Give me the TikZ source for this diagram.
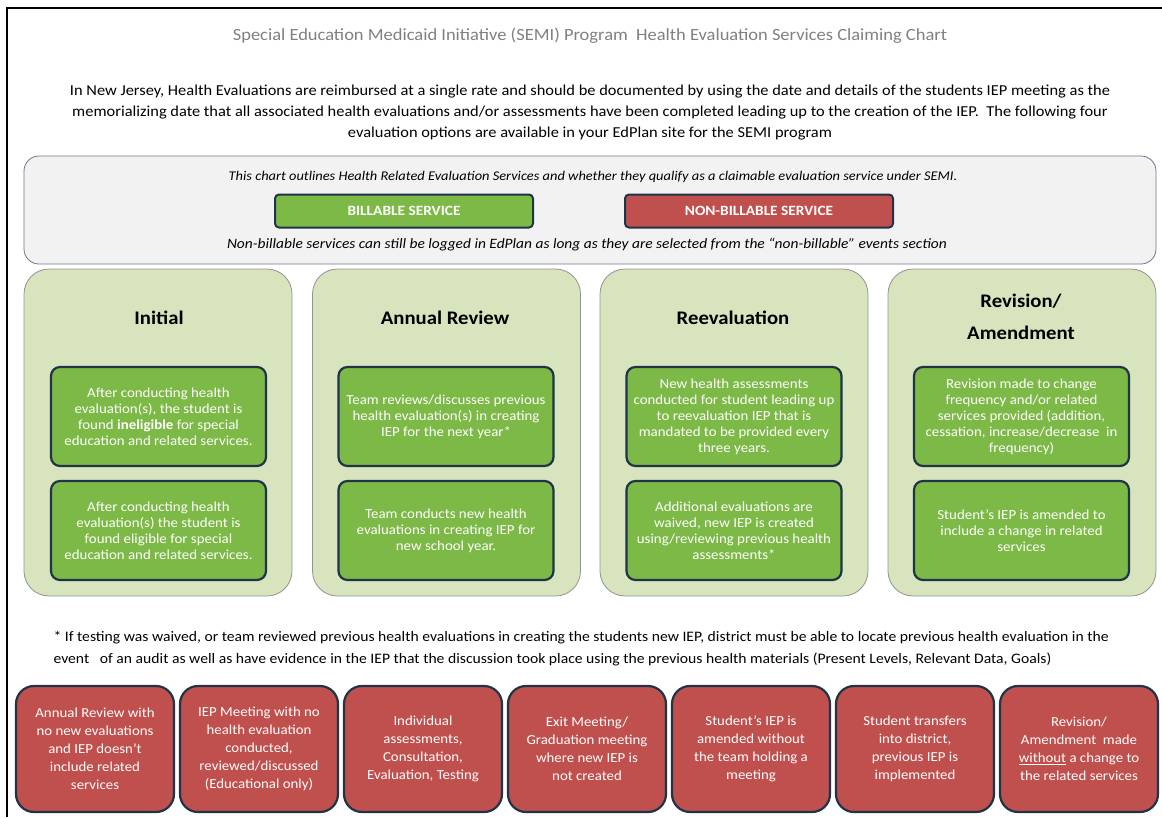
\documentclass[tikz,border=0pt]{standalone}
\usepackage{fontspec}
\setmainfont{Carlito}[FakeStretch=1.08]
\usepackage{xcolor}
\usetikzlibrary{positioning}
\definecolor{billgreen}{HTML}{7DB946}
\definecolor{nonbillred}{HTML}{C0504D}
\definecolor{boxnavy}{HTML}{1F3349}
\definecolor{colgreen}{HTML}{D7E4BD}
\definecolor{legendgray}{HTML}{F2F2F2}
\definecolor{titlegray}{HTML}{808080}

\begin{document}
\begin{tikzpicture}[x=1pt, y=-1pt, column/.style = {draw=gray!85,
        fill=colgreen, line width=0.8pt, rounded corners=25pt,
        minimum width=268pt, minimum height=327pt}, billable/.style =
      {draw=boxnavy, fill=billgreen, line width=2.2pt, rounded corners=9pt,
        text=white, align=center, inner sep=2pt,
        font=\fontsize{13.8}{16}\selectfont,
        minimum width=215pt, minimum height=99pt},
      nonbillable/.style={billable, fill=nonbillred, rounded corners=18pt,
        minimum width=158pt, minimum height=126pt,
        font=\fontsize{13.75}{18}\selectfont},
      legendkey/.style={draw=boxnavy, line width=2pt, rounded corners=4pt,
        minimum width=258pt, minimum height=33pt, text=white,
        font=\fontsize{14.2}{16}\selectfont\bfseries},
      coltitle/.style={align=center, font=\fontsize{19.2}{32}\selectfont\bfseries}]

      \useasboundingbox (0,0) rectangle (1162,817);
      \draw[line width=2pt] (7,817) -- (7,8) -- (1162,8);

      \node [text=titlegray, font=\fontsize{17.1}{18}\selectfont] (title) at (590,36)
        {Special Education Medicaid Initiative (SEMI) Program\ \ Health Evaluation Services Claiming Chart};
      \node [align=center, font=\fontsize{15.2}{21}\selectfont] (intro) at (590,113)
        {In New Jersey, Health Evaluations are reimbursed at a single rate and should be documented by using the date and details of the students IEP meeting as the\\
         memorializing date that all associated health evaluations and/or assessments have been completed leading up to the creation of the IEP.\ \ The following four\\
         evaluation options are available in your EdPlan site for the SEMI program};

      % legend
      \node [draw=gray!90!blue, fill=legendgray, line width=0.8pt, rounded corners=15pt,
        minimum width=1132pt, minimum height=108pt] (legend) at (590,210) {};
      \node [font=\fontsize{13.35}{16}\selectfont\itshape] (legendtop) at (593,177)
        {This chart outlines Health Related Evaluation Services and whether they qualify as a claimable evaluation service under SEMI.};
      \node [legendkey, fill=billgreen] (billkey) at (404,211) {BILLABLE SERVICE};
      \node [legendkey, fill=nonbillred, minimum width=268pt] (nonbillkey) at (759,211) {NON-BILLABLE SERVICE};
      \node [font=\fontsize{14.3}{16}\selectfont\itshape] (legendbottom) at (587,245)
        {Non-billable services can still be logged in EdPlan as long as they are selected from the “non-billable” events section};

      % the four evaluation options
      \node [column] (initial) at (158,432.5) {};
      \node [column] (annual) at (446.5,432.5) {};
      \node [column] (reeval) at (734,432.5) {};
      \node [column] (revision) at (1022,432.5) {};
      \node [coltitle] (initialtitle) at (159,318) {Initial};
      \node [coltitle] (annualtitle) at (445,318) {Annual Review};
      \node [coltitle] (reevaltitle) at (733,318) {Reevaluation};
      \node [coltitle] (revisiontitle) at (1021,317) {Revision/\\Amendment};

      \node [billable] (initialA) at (158.5,416.5) {After conducting health\\evaluation(s), the student is\\found \textbf{ineligible} for special\\education and related services.};
      \node [billable] (initialB) at (158.5,530.5) {After conducting health\\evaluation(s) the student is\\found eligible for special\\education and related services.};
      \node [billable] (annualA) at (446,416.5) {Team reviews/discusses previous\\health evaluation(s) in creating\\IEP for the next year*};
      \node [billable] (annualB) at (446,530.5) {Team conducts new health\\evaluations in creating IEP for\\new school year.};
      \node [billable] (reevalA) at (734,416.5) {New health assessments\\conducted for student leading up\\to reevaluation IEP that is\\mandated to be provided every\\three years.};
      \node [billable] (reevalB) at (734,530.5) {Additional evaluations are\\waived, new IEP is created\\using/reviewing previous health\\assessments*};
      \node [billable] (revisionA) at (1021.5,416.5) {Revision made to change\\frequency and/or related\\services provided (addition,\\cessation, increase/decrease\ \ in\\frequency)};
      \node [billable] (revisionB) at (1021.5,530.5) {Student’s IEP is amended to\\include a change in related\\services};

      \node [anchor=west, align=left, font=\fontsize{14.5}{22}\selectfont] (footnote) at (50,649)
        {* If testing was waived, or team reviewed previous health evaluations in creating the students new IEP, district must be able to locate previous health evaluation in the\\
         event\ \ \ of an audit as well as have evidence in the IEP that the discussion took place using the previous health materials (Present Levels, Relevant Data, Goals)};

      % non-billable services
      \node [nonbillable] (nb1) at (95,749) {Annual Review with\\no new evaluations\\and IEP doesn’t\\include related\\services};
      \node [nonbillable, right=3.8pt of nb1] (nb2) {IEP Meeting with no\\health evaluation\\conducted,\\reviewed/discussed\\(Educational only)};
      \node [nonbillable, right=3.8pt of nb2] (nb3) {Individual\\assessments,\\Consultation,\\Evaluation, Testing};
      \node [nonbillable, right=3.8pt of nb3] (nb4) {Exit Meeting/\\Graduation meeting\\where new IEP is\\not created};
      \node [nonbillable, right=3.8pt of nb4] (nb5) {Student’s IEP is\\amended without\\the team holding a\\meeting};
      \node [nonbillable, right=3.8pt of nb5] (nb6) {Student transfers\\into district,\\previous IEP is\\implemented};
      \node [nonbillable, right=3.8pt of nb6] (nb7) {Revision/\\Amendment\ \ made\\\underline{without} a change to\\the related services};
    \end{tikzpicture}
\end{document}
